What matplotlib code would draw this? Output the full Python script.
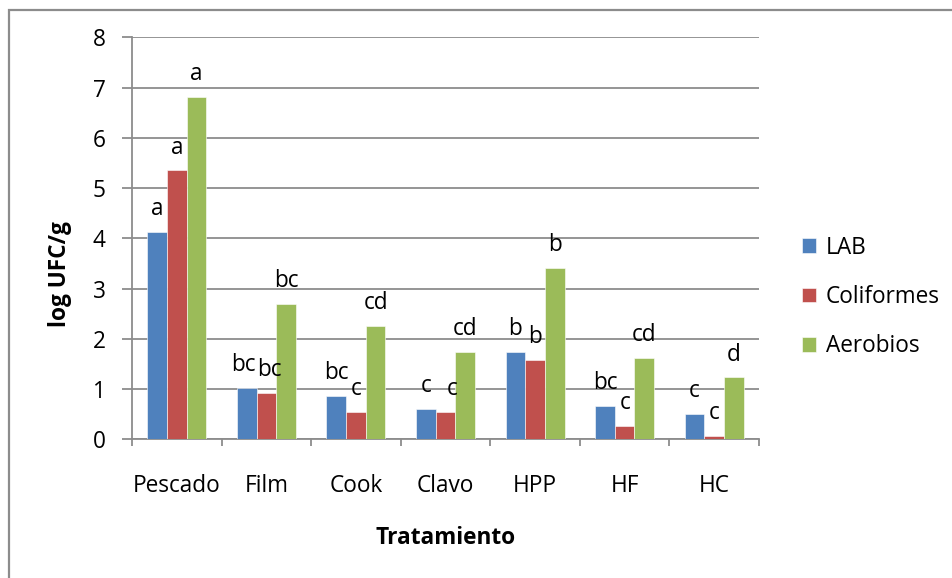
import matplotlib
matplotlib.use('Agg')
import matplotlib.pyplot as plt
from matplotlib.patches import Rectangle
import numpy as np

plt.rcParams['font.family'] = ['Open Sans', 'DejaVu Sans']

# datos
tratamientos = ['Pescado', 'Film', 'Cook', 'Clavo', 'HPP', 'HF', 'HC']
series = ['LAB', 'Coliformes', 'Aerobios']
lab = [4.13, 1.03, 0.87, 0.60, 1.74, 0.67, 0.51]
coliformes = [5.35, 0.92, 0.55, 0.55, 1.58, 0.27, 0.07]
aerobios = [6.82, 2.69, 2.26, 1.74, 3.41, 1.62, 1.23]
letras_lab = ['a', 'bc', 'bc', 'c', 'b', 'bc', 'c']
letras_col = ['a', 'bc', 'c', 'c', 'b', 'c', 'c']
letras_aer = ['a', 'bc', 'cd', 'cd', 'b', 'cd', 'd']
yticks = [0, 1, 2, 3, 4, 5, 6, 7, 8]

AZUL = '#4F81BD'; ROJO = '#C0504D'; VERDE = '#9BBB59'; GRIS = '#8C8C8C'
W, H = 952, 578
FS = 16.3

# pequeños desplazamientos (puntos) de algunas letras, como en el original
nudge = {(0, 1): -2, (1, 1): 2, (1, 3): 5}

fig = plt.figure(figsize=(W/100, H/100), dpi=100)
fig.patch.set_facecolor('white')
# marco del grafico (recortado a la derecha y abajo)
fig.add_artist(Rectangle((8.5/W, -0.05), 1.2, 1.05 - 9.5/H, transform=fig.transFigure,
                         fill=False, ec=GRIS, lw=1.6))

ax = fig.add_axes([132/W, 1-439.3/H, (759-132)/W, (439.3-37.3)/H])
x = np.arange(len(tratamientos))
bw = 0.22
datos = [(lab, letras_lab, AZUL), (coliformes, letras_col, ROJO), (aerobios, letras_aer, VERDE)]
for i, (vals, letras, col) in enumerate(datos):
    xs = x + (i-1)*bw
    ax.bar(xs, vals, bw, color=col, edgecolor='white', lw=0.4, label=series[i], zorder=3)
    for j, (xi, v, t) in enumerate(zip(xs, vals, letras)):
        dx = nudge.get((i, j), 0)
        ax.annotate(t, xy=(xi, v), xytext=(dx, 12), textcoords='offset points',
                    ha='center', va='baseline', fontsize=FS, color='black', zorder=4)

ax.set_xlim(-0.5, 6.5)
ax.set_ylim(0, 8)
ax.set_yticks(yticks)
ax.set_yticklabels([str(v) for v in yticks])
ax.yaxis.grid(True, color=GRIS, lw=1.3, zorder=0)
ax.set_axisbelow(True)
for s in ('top', 'right'):
    ax.spines[s].set_visible(False)
for s in ('left', 'bottom'):
    ax.spines[s].set_color(GRIS)
    ax.spines[s].set_linewidth(1.3)
ax.tick_params(axis='y', direction='out', length=7, width=1.3, color=GRIS, pad=12, labelsize=FS)
ax.set_xticks(x)
ax.set_xticklabels(tratamientos)
ax.set_xticks(np.arange(-0.5, 7, 1), minor=True)
ax.tick_params(axis='x', which='major', length=0, pad=25, labelsize=FS)
ax.tick_params(axis='x', which='minor', direction='out', length=5, width=1.3, color=GRIS)

fig.text(60/W, 1-274/H, 'log UFC/g', rotation=90, ha='center', va='center',
         fontsize=FS, fontweight='bold')
fig.text(446/W, 1-538/H, 'Tratamiento', ha='center', va='center',
         fontsize=FS, fontweight='bold')

ax.legend(loc='center left', bbox_to_anchor=(802/W, 1-297/H), bbox_transform=fig.transFigure,
          frameon=False, fontsize=FS, handlelength=0.62, handleheight=0.62,
          handletextpad=0.42, labelspacing=1.12, borderpad=0, borderaxespad=0)

fig.savefig('out.png', dpi=100)
